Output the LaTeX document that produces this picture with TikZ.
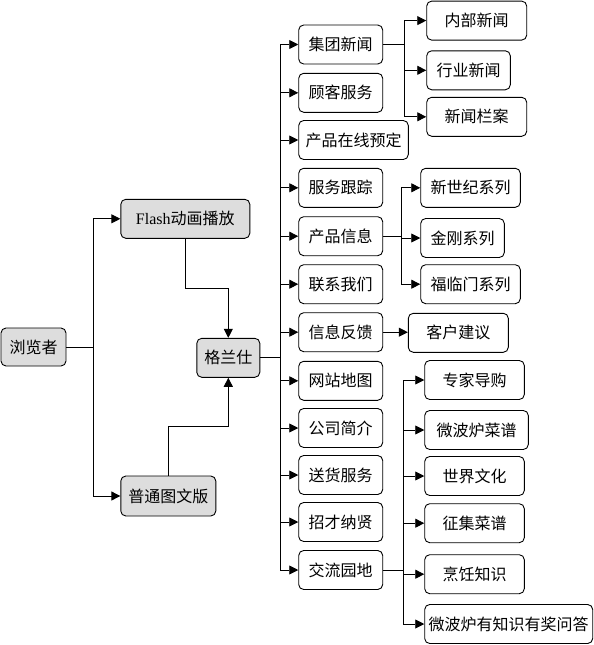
\documentclass[tikz,border=0pt]{standalone}
\usepackage{fontspec}
\usetikzlibrary{arrows.meta}
\newfontfamily\cjk{Noto Sans CJK SC}
\newfontfamily\lat{Liberation Serif}
\definecolor{boxgray}{HTML}{DDDDDD}
\tikzset{
  base/.style={draw=black, line width=0.9pt, rounded corners=5pt, inner sep=0pt,
    font=\cjk\fontsize{16}{19}\selectfont, minimum height=39pt},
  topbox/.style={base, fill=boxgray},
  subbox/.style={base, fill=white},
  link/.style={line width=0.9pt, draw=black},
  arr/.style={link, -{Triangle[length=9pt,width=9pt]}}
}
\begin{document}
\begin{tikzpicture}[x=1pt,y=-1pt]
\useasboundingbox (0,0) rectangle (594,645);
% level 1
\node[topbox, minimum width=65pt, minimum height=38pt] (viewer) at (33.5,347) {浏览者};
\node[topbox, minimum width=129pt] (flash) at (185.3,218.8) {{\lat Flash}动画播放};
\node[topbox, minimum width=95pt, minimum height=40pt] (putong) at (168.3,496) {普通图文版};
\node[topbox, minimum width=63pt] (gls) at (228.3,357.8) {格兰仕};
% level 2
\node[subbox, minimum width=84pt] (jt) at (340.7,44.5) {集团新闻};
\node[subbox, minimum width=84pt] (gk) at (340.7,92.8) {顾客服务};
\node[subbox, minimum width=109.6pt] (zx) at (353.5,140) {产品在线预定};
\node[subbox, minimum width=84pt] (gz) at (340.7,187.8) {服务跟踪};
\node[subbox, minimum width=84pt] (cp) at (340.7,236.2) {产品信息};
\node[subbox, minimum width=84pt] (lx) at (340.7,284.2) {联系我们};
\node[subbox, minimum width=84pt] (fk) at (340.7,332.2) {信息反馈};
\node[subbox, minimum width=84pt] (dt) at (340.7,380.8) {网站地图};
\node[subbox, minimum width=84pt] (jj) at (340.7,428) {公司简介};
\node[subbox, minimum width=84pt] (sh) at (340.7,475) {送货服务};
\node[subbox, minimum width=84pt] (zc) at (340.7,522) {招才纳贤};
\node[subbox, minimum width=84pt] (jl) at (340.7,570) {交流园地};
% level 3
\node[subbox, minimum width=100pt] (nb) at (476.7,20.6) {内部新闻};
\node[subbox, minimum width=83.6pt] (hy) at (468.5,70.3) {行业新闻};
\node[subbox, minimum width=100pt] (la) at (476.7,116.8) {新闻栏案};
\node[subbox, minimum width=99.6pt] (xsj) at (470.5,187.8) {新世纪系列};
\node[subbox, minimum width=83.6pt] (jg) at (462.5,238) {金刚系列};
\node[subbox, minimum width=99.6pt] (flm) at (470.5,284.2) {福临门系列};
\node[subbox, minimum width=100pt] (kh) at (458.3,332.8) {客户建议};
\node[subbox, minimum width=99.6pt] (zj) at (474.5,380) {专家导购};
\node[subbox, minimum width=103.6pt] (wb) at (476.5,430) {微波炉菜谱};
\node[subbox, minimum width=99.6pt] (sj) at (474.5,476) {世界文化};
\node[subbox, minimum width=99.6pt] (zjcp) at (474.5,523.2) {征集菜谱};
\node[subbox, minimum width=99.6pt] (pr) at (474.5,574.2) {烹饪知识};
\node[subbox, minimum width=168pt] (wd) at (508.7,624) {微波炉有知识有奖问答};
% connectors level 1
\coordinate (vb) at (93.3,347);
\draw[link] (viewer.east) -- (vb);
\draw[arr] (vb) |- (flash.west);
\draw[arr] (vb) |- (putong.west);
\draw[arr] (flash.south) -- ++(0,49.5) -| (gls.north);
\draw[arr] (putong.north) -- ++(0,-48.7) -| (gls.south);
% trunk
\coordinate (t) at (280,357.8);
\draw[link] (gls.east) -- (t);
\foreach \n in {jt,gk,zx,gz,cp,lx,fk,dt,jj,sh,zc,jl}{
  \draw[arr] (t) |- (\n.west);
}
% 集团新闻
\coordinate (jb) at (404.3,44.5);
\draw[link] (jt.east) -- (jb);
\foreach \n in {nb,hy,la}{ \draw[arr] (jb) |- (\n.west); }
% 产品信息
\coordinate (cb) at (401.7,236.2);
\draw[link] (cp.east) -- (cb);
\foreach \n in {xsj,jg,flm}{ \draw[arr] (cb) |- (\n.west); }
% 信息反馈
\draw[arr] (fk.east) -- (kh.west |- fk.east);
% 交流园地
\coordinate (lb) at (403.3,570);
\draw[link] (jl.east) -- (lb);
\foreach \n in {zj,wb,sj,zjcp,pr,wd}{ \draw[arr] (lb) |- (\n.west); }
\end{tikzpicture}
\end{document}
